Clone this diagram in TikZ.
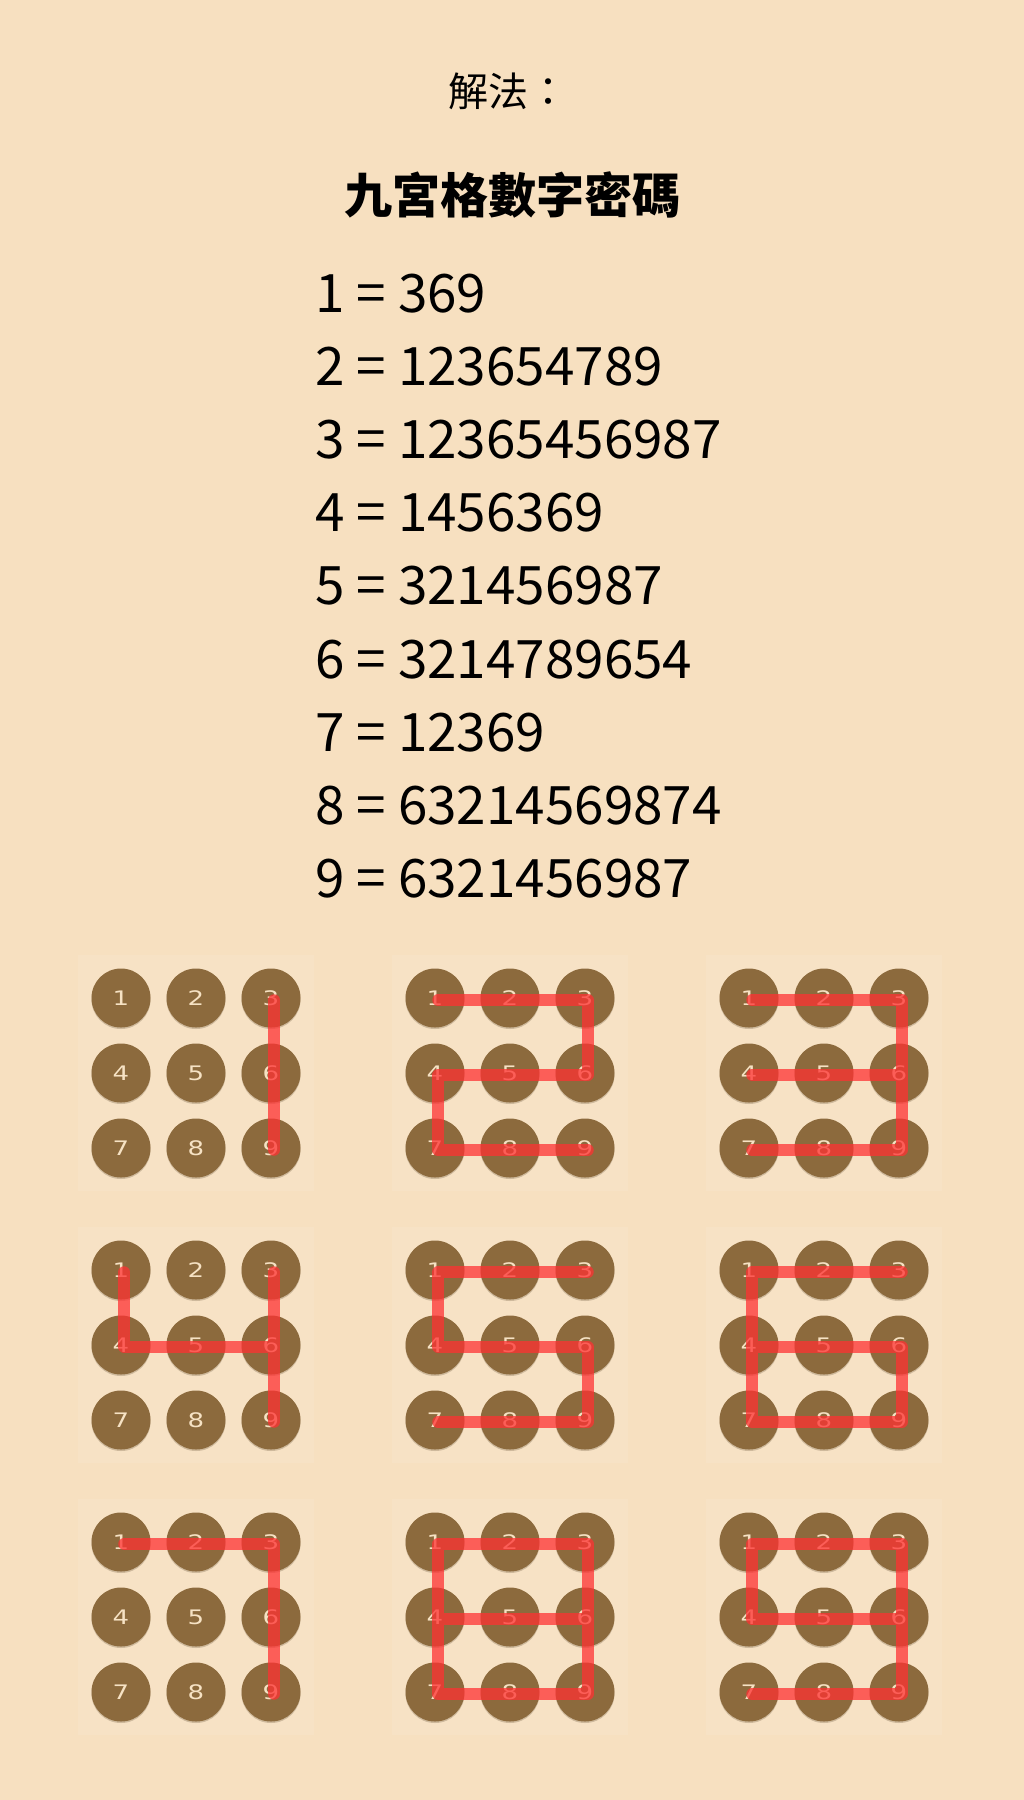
\documentclass[tikz,border=0pt]{standalone}
\usepackage{fontspec}
\setmainfont{Noto Sans CJK TC}
\newfontfamily\digitfont[FakeStretch=1.3]{DejaVu Sans}
\usetikzlibrary{shadows}
\definecolor{bgcol}{RGB}{247,224,192}
\definecolor{panelcol}{RGB}{247,226,197}
\definecolor{keybrown}{RGB}{140,106,61}
\definecolor{keydigit}{RGB}{246,226,196}
\definecolor{pathred}{RGB}{255,48,50}
\tikzset{
  panel/.style={rectangle, minimum width=236pt, minimum height=236pt, inner sep=0pt, fill=panelcol},
  keycircle/.style={circle, minimum size=59pt, inner sep=0pt, fill=keybrown, text=keydigit,
    font=\digitfont\fontsize{20}{20}\selectfont,
    drop shadow={shadow xshift=0pt, shadow yshift=-1.5pt, opacity=.25, fill=keybrown!60!black}},
  redline/.style={draw=pathred, draw opacity=.74, line width=11.5pt, line cap=round, line join=round},
  numline/.style={anchor=base west, font=\fontsize{53}{60}\selectfont},
}
\newcommand\keypad[3]{%
  \node[panel] (#1) at (#2+75,#3+75) {};
  \foreach \n/\c/\r in {1/0/0,2/1/0,3/2/0,4/0/1,5/1/1,6/2/1,7/0/2,8/1/2,9/2/2}{
    \node[keycircle] (#1-\n) at (#2+75*\c,#3+75*\r) {\n};
    \coordinate (#1-\n r) at ([shift={(3,2)}]#1-\n.center);
  }%
}
\begin{document}
\begin{tikzpicture}[x=1pt,y=-1pt]
\useasboundingbox (0,0) rectangle (1024,1800);
\fill[bgcol] (0,0) rectangle (1024,1800);
\node[font=\fontsize{40}{40}\selectfont] (sol) at (508,91) {解法：};
\node[font=\bfseries\fontsize{48}{48}\selectfont] (title) at (512,195) {九宮格數字密碼};
\node[numline] (l1) at (312,312) {1 = 369};
\node[numline] (l2) at (312,385.2) {2 = 123654789};
\node[numline] (l3) at (312,458.4) {3 = 12365456987};
\node[numline] (l4) at (312,531.6) {4 = 1456369};
\node[numline] (l5) at (312,604.8) {5 = 321456987};
\node[numline] (l6) at (312,678) {6 = 3214789654};
\node[numline] (l7) at (312,751.2) {7 = 12369};
\node[numline] (l8) at (312,824.4) {8 = 63214569874};
\node[numline] (l9) at (312,897.6) {9 = 6321456987};
\keypad{ga}{121}{998}
\keypad{gb}{435}{998}
\keypad{gc}{749}{998}
\keypad{gd}{121}{1270}
\keypad{ge}{435}{1270}
\keypad{gf}{749}{1270}
\keypad{gg}{121}{1542}
\keypad{gh}{435}{1542}
\keypad{gi}{749}{1542}
\draw[redline] (ga-3r) -- (ga-9r);
\draw[redline] (gb-1r) -- (gb-3r) -- (gb-6r) -- (gb-4r) -- (gb-7r) -- (gb-9r);
\draw[redline] (gc-1r) -- (gc-3r) -- (gc-9r) -- (gc-7r) (gc-6r) -- (gc-4r);
\draw[redline] (gd-1r) -- (gd-4r) -- (gd-6r) (gd-3r) -- (gd-9r);
\draw[redline] (ge-3r) -- (ge-1r) -- (ge-4r) -- (ge-6r) -- (ge-9r) -- (ge-7r);
\draw[redline] (gf-3r) -- (gf-1r) -- (gf-7r) -- (gf-9r) -- (gf-6r) -- (gf-4r);
\draw[redline] (gg-1r) -- (gg-3r) -- (gg-9r);
\draw[redline] (gh-1r) -- (gh-3r) -- (gh-9r) -- (gh-7r) -- cycle (gh-4r) -- (gh-6r);
\draw[redline] (gi-6r) -- (gi-3r) -- (gi-1r) -- (gi-4r) -- (gi-6r) -- (gi-9r) -- (gi-7r);
\end{tikzpicture}
\end{document}
